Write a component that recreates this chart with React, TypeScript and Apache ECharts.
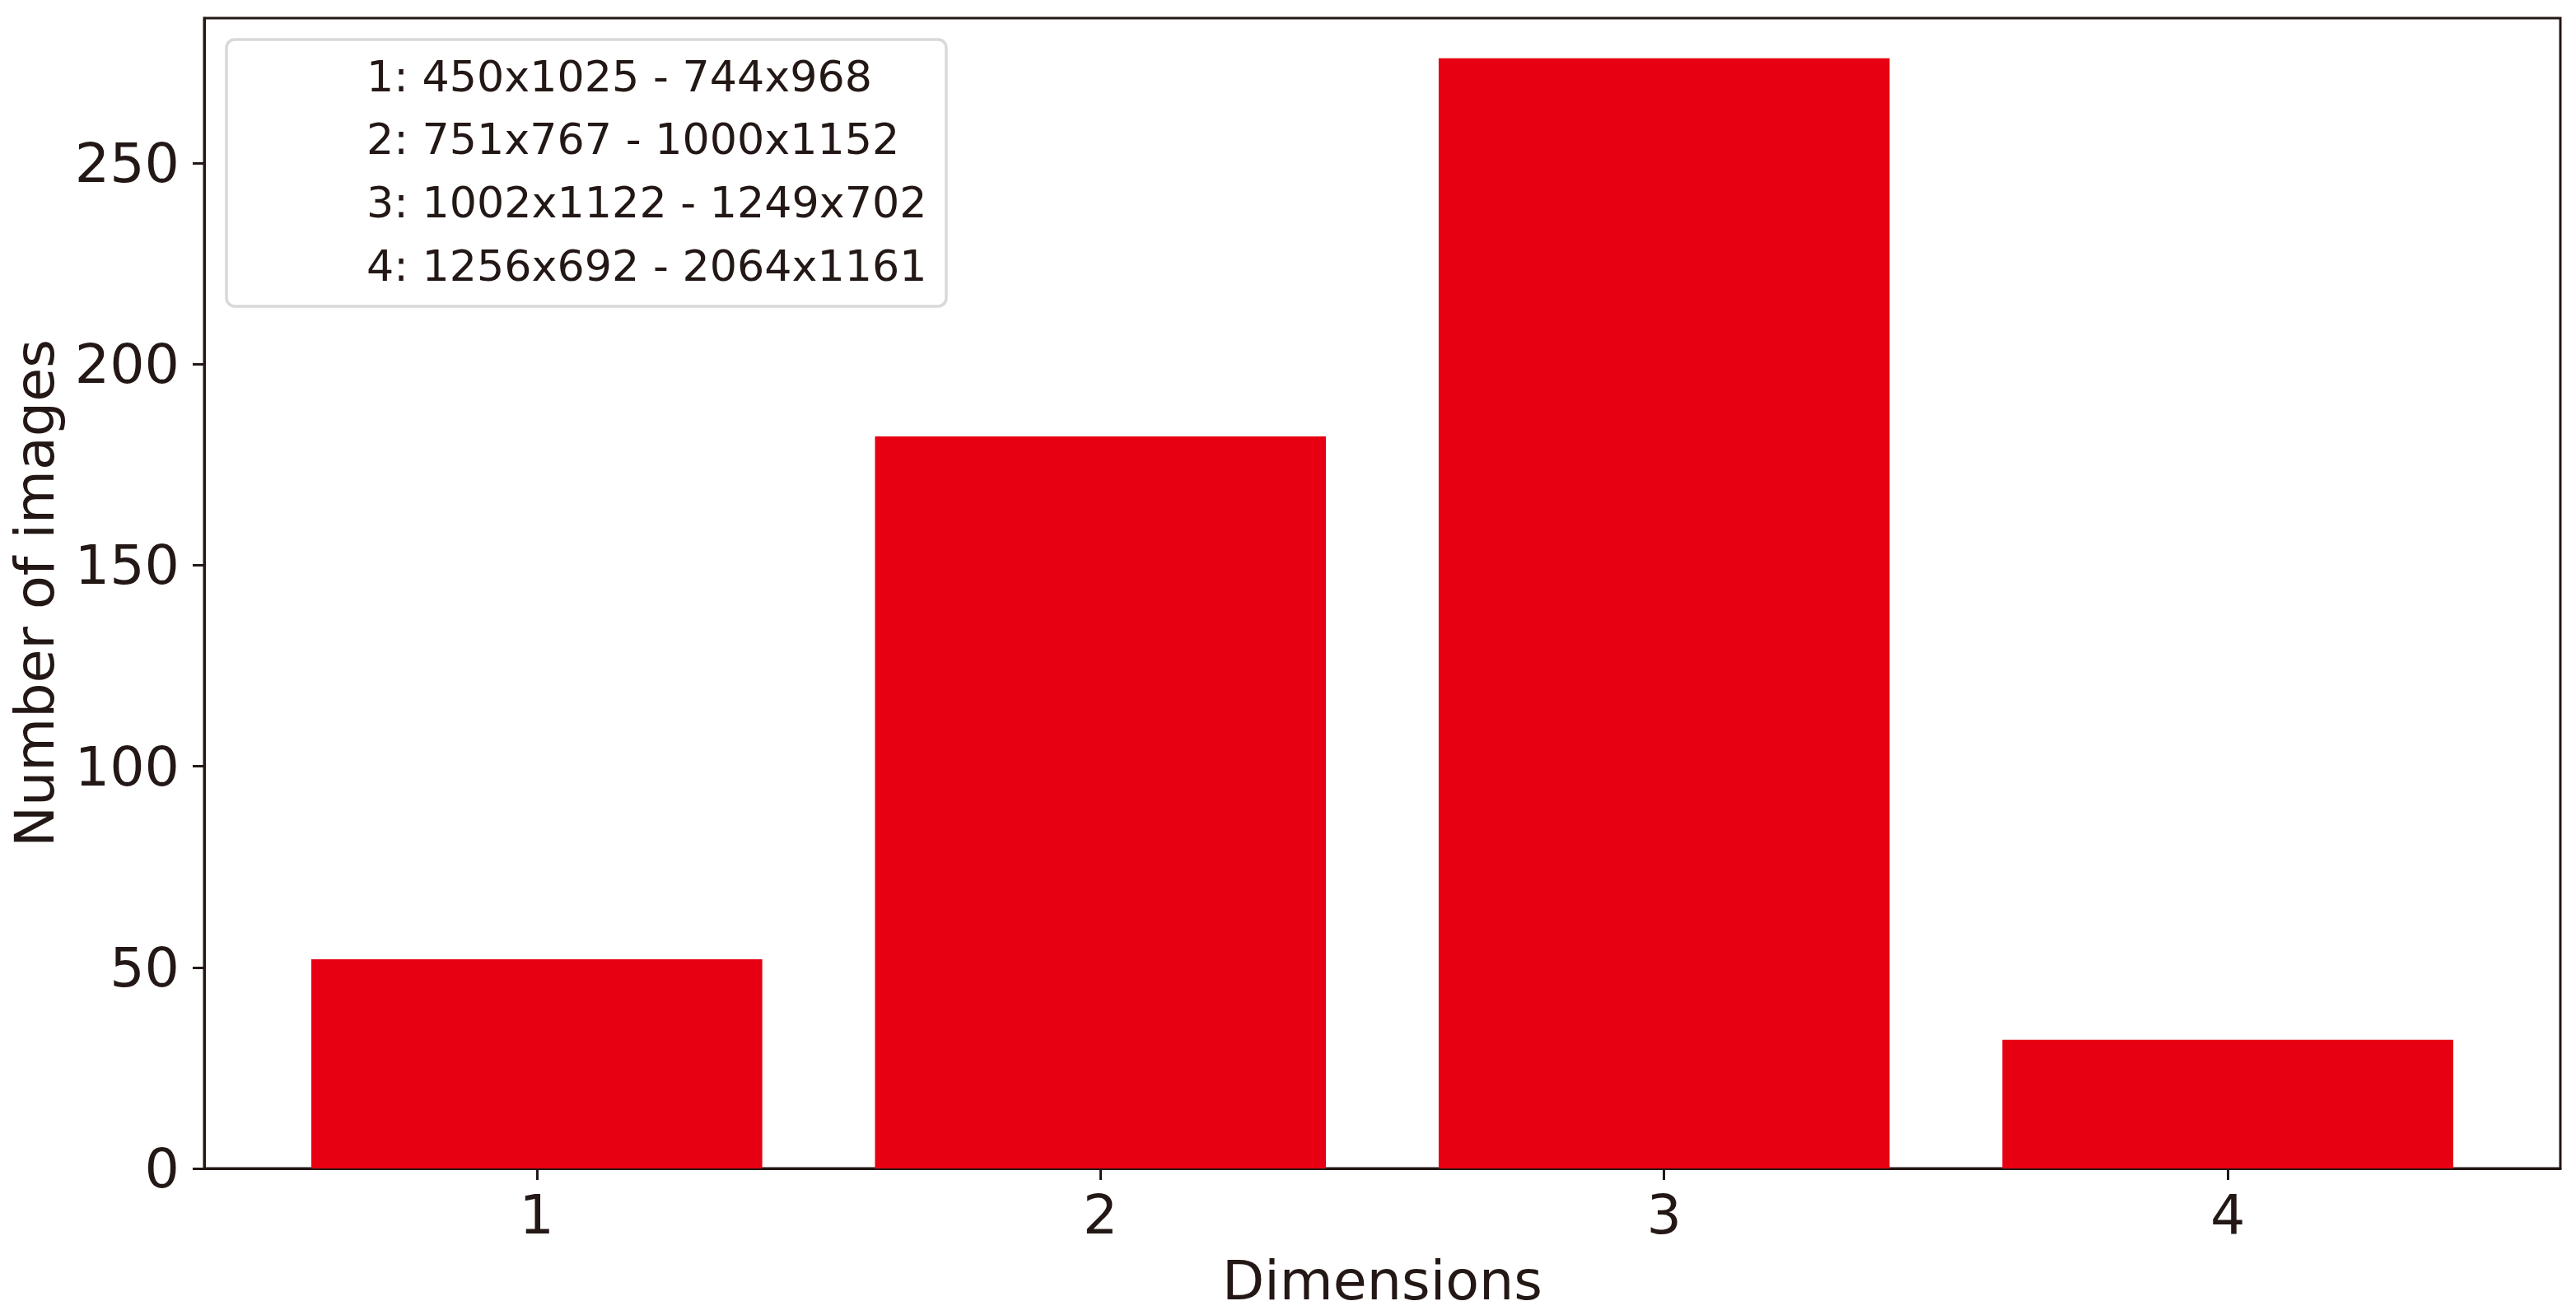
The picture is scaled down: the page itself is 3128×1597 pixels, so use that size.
import React, { useEffect, useRef } from "react";
import * as echarts from "echarts";

const categories = [1, 2, 3, 4];
const counts = [52, 182, 276, 32];
const yTicks = [0, 50, 100, 150, 200, 250];
const legendLabels = [
  "1: 450x1025 - 744x968",
  "2: 751x767 - 1000x1152",
  "3: 1002x1122 - 1249x702",
  "4: 1256x692 - 2064x1161",
];

const FONT = "DejaVu Sans";
const INK = "#231815";
const BAR = "#e60012";

export default function App() {
  const ref = useRef<HTMLDivElement>(null);
  useEffect(() => {
    if (!ref.current) return;
    const chart = echarts.init(ref.current, null, { renderer: "svg" });
    const legendTop = 48;
    const rowGap = 76.8;
    const option: any = {
      animation: false,
      backgroundColor: "#ffffff",
      grid: {
        left: 248,
        top: 22,
        right: 19,
        bottom: 178,
        show: true,
        borderColor: INK,
        borderWidth: 3,
        backgroundColor: "transparent",
      },
      xAxis: {
        type: "value",
        min: 0.41,
        max: 4.59,
        name: "Dimensions",
        nameLocation: "middle",
        nameGap: 102,
        nameTextStyle: { fontFamily: FONT, fontSize: 66.67, color: INK },
        axisLine: { show: true, onZero: false, lineStyle: { color: INK, width: 3 } },
        axisTick: { show: true, length: 14, customValues: categories, lineStyle: { color: INK, width: 3 } },
        axisLabel: {
          customValues: categories,
          margin: 22,
          fontFamily: FONT,
          fontSize: 66.67,
          color: INK,
          formatter: (v: number) => String(v),
        },
        splitLine: { show: false },
      },
      yAxis: {
        type: "value",
        min: 0,
        max: 286,
        name: "Number of images",
        nameLocation: "middle",
        nameGap: 173,
        nameTextStyle: { fontFamily: FONT, fontSize: 66.67, color: INK },
        axisLine: { show: true, lineStyle: { color: INK, width: 3 } },
        axisTick: { show: true, length: 14, customValues: yTicks, lineStyle: { color: INK, width: 3 } },
        axisLabel: {
          customValues: yTicks,
          margin: 30,
          fontFamily: FONT,
          fontSize: 66.67,
          color: INK,
        },
        splitLine: { show: false },
      },
      series: [
        {
          type: "bar",
          data: categories.map((c, i) => [c, counts[i]]),
          barWidth: "80%",
          itemStyle: { color: BAR },
        },
      ],
      graphic: [
        {
          type: "rect",
          z: 100,
          shape: { x: 275, y: legendTop, width: 874, height: 324, r: 10 },
          style: { fill: "rgba(255,255,255,0.8)", stroke: "#d9d9d9", lineWidth: 3.5 },
        },
        ...legendLabels.map((t, i) => ({
          type: "text",
          z: 101,
          x: 445,
          y: 92 + i * rowGap,
          style: {
            text: t,
            fontFamily: FONT,
            fontSize: 52.3,
            fill: INK,
            align: "left",
            verticalAlign: "middle",
          },
        })),
      ],
    };
    chart.setOption(option);
    return () => chart.dispose();
  }, []);
  return (
    <div
      ref={ref}
      style={{ position: "fixed", left: 0, top: 0, width: 3128, height: 1597 }}
    />
  );
}
